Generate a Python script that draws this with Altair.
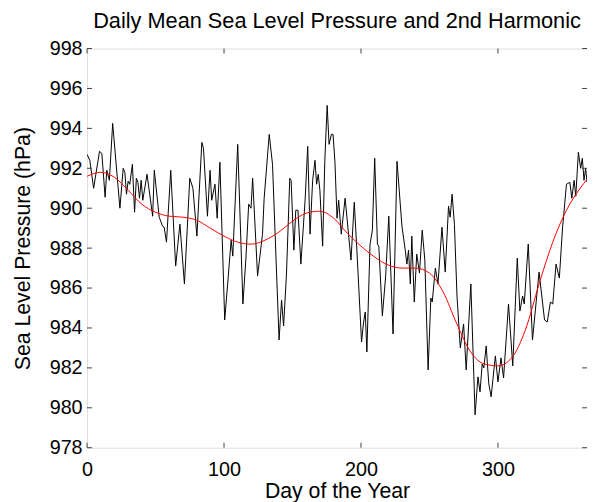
import altair as alt
import pandas as pd

# ---- data ----
day = [0, 2, 4.8, 9.1, 10.8, 13.2, 14.4, 16.3, 18.7, 24, 26.4, 27.6, 28.8, 30, 31.2, 33.1,
       34.7, 36, 37.1, 38.3, 39.5, 40.7, 43.8, 47.9, 49.1, 52.7, 55.1, 56.3, 58, 61.1,
       64.7, 67.8, 71.1, 75, 77.3, 80.2, 83.8, 85, 87.9, 89.8, 91, 93.4, 95, 97, 100.5,
       103, 105.2, 106.4, 110, 113.8, 116, 118, 119.7, 120.9, 124.5, 128.1, 129.3, 133,
       135.4, 140.2, 142, 143.5, 145.6, 148, 149, 151, 152.4, 154, 156.1, 159.2, 161.1,
       162.8, 164.7, 166.4, 167.6, 168.8, 170, 172, 173.6, 175.3, 176.7, 178.4, 179.6,
       181, 182.5, 183.7, 185.6, 188.4, 192.7, 195.1, 197, 200.4, 201.9, 203.1, 204.3,
       206.6, 208.3, 210, 212, 213, 215.6, 218, 220.3, 223.4, 226.3, 229.9, 232.3, 233.5,
       234.7, 236, 237.1, 238.9, 240.7, 242.7, 244.7, 246.6, 249, 251, 252, 254.3, 256.2,
       259.1, 261.5, 263.9, 265.1, 266.5, 268.2, 270.1, 272.5, 274.9, 276.8, 280.2, 283.3,
       285.4, 286.9, 288.5, 289.7, 291.4, 293.3, 295, 298.1, 300, 302.2, 304.1, 307.7,
       310.8, 314.1, 316, 318, 319.2, 322.1, 325.2, 330, 334, 336, 338.3, 340, 342.4,
       344.8, 347.2, 350, 352.5, 353.9, 355.6, 356.8, 358.7, 360.4, 361.6, 362.8, 364, 365]
slp = [992.7, 992.4, 991.0, 992.85, 992.75, 990.55, 991.9, 991.4, 994.25, 990.0, 992.0, 991.8,
       990.7, 991.35, 991.2, 992.2, 989.8, 991.5, 991.3, 990.5, 991.4, 990.4, 991.7, 989.6,
       991.9, 989.55, 989.1, 989.05, 988.3, 991.9, 987.1, 989.2, 986.2, 991.5, 991.0, 988.6,
       993.3, 993.0, 989.6, 991.9, 990.4, 991.2, 989.5, 992.3, 984.4, 986.5, 988.4, 987.6,
       993.2, 985.2, 987.5, 990.2, 990.0, 991.5, 986.6, 988.7, 990.5, 993.7, 992.2, 983.4,
       985.4, 984.1, 986.7, 991.5, 991.4, 987.9, 989.9, 989.9, 987.2, 990.4, 993.1, 988.7,
       991.4, 992.4, 991.2, 991.7, 990.9, 988.1, 992.4, 995.15, 993.2, 993.7, 993.7, 992.3,
       989.5, 990.4, 988.7, 990.5, 987.4, 990.3, 987.9, 983.3, 984.3, 984.8, 982.8, 988.2,
       988.9, 992.5, 988.2, 988.1, 984.6, 986.6, 989.6, 983.7, 992.35, 989.1, 987.9, 987.2,
       987.9, 986.2, 988.6, 985.3, 987.7, 986.75, 988.9, 987.4, 981.9, 985.5, 985.3, 987.0,
       986.2, 989.05, 986.8, 990.1, 989.55, 990.7, 989.2, 985.6, 983.0, 984.2, 981.9, 986.2,
       979.65, 981.55, 980.8, 982.2, 982.0, 983.1, 981.2, 980.55, 982.6, 981.3, 982.5, 981.5,
       985.2, 982.1, 987.5, 984.85, 985.6, 985.2, 988.2, 983.4, 986.8, 984.4, 984.3, 985.3,
       985.2, 987.2, 986.5, 989.06, 991.2, 991.3, 990.5, 991.4, 990.6, 992.8, 992.0, 992.5,
       991.4, 992.0, 991.3]

harm_day = [0, 10, 20, 30, 40, 50, 60, 70, 80, 90, 100, 110, 120, 130, 140, 150, 160, 170,
            180, 190, 200, 210, 220, 230, 240, 250, 260, 270, 280, 290, 300, 310, 320, 330,
            340, 350, 360, 365]
harm_slp = [991.6, 991.8, 991.55, 990.9, 990.2, 989.8, 989.6, 989.55, 989.4, 989.0, 988.6,
            988.3, 988.2, 988.4, 988.8, 989.35, 989.75, 989.85, 989.5, 988.75, 988.1, 987.55,
            987.15, 987.0, 987.0, 986.75, 985.8, 984.2, 982.8, 982.2, 982.1, 982.5, 983.9,
            986.2, 988.3, 989.9, 991.0, 991.45]

x_ticks = [0, 100, 200, 300]
y_ticks = [978, 980, 982, 984, 986, 988, 990, 992, 994, 996, 998]

TITLE = "Daily Mean Sea Level Pressure and 2nd Harmonic"
X_TITLE = "Day of the Year"
Y_TITLE = "Sea Level Pressure (hPa)"

W, H = 506, 404
FONT = "Liberation Sans"
AX = "#404040"

black_df = pd.DataFrame({"day": day, "slp": slp})
harm_df = pd.DataFrame({"day": harm_day, "slp": harm_slp})
xt_df = pd.DataFrame({"t": x_ticks})
yt_df = pd.DataFrame({"t": y_ticks})

xscale = alt.Scale(domain=[0, 365], nice=False, zero=False)
yscale = alt.Scale(domain=[978, 998], nice=False, zero=False)

x_axis = alt.Axis(values=x_ticks, title=X_TITLE, ticks=False, domain=False, grid=False,
                  labelFlush=False, labelOverlap=False,
                  labelFont=FONT, labelFontSize=20, labelColor="black", labelPadding=12,
                  titleFont=FONT, titleFontSize=21.5, titleFontWeight="normal",
                  titleColor="black", titlePadding=1)
y_axis = alt.Axis(values=y_ticks, title=Y_TITLE, ticks=False, domain=False, grid=False,
                  labelFlush=False, labelOverlap=False,
                  labelFont=FONT, labelFontSize=20, labelColor="black", labelPadding=5,
                  titleFont=FONT, titleFontSize=21.5, titleFontWeight="normal",
                  titleColor="black", titlePadding=15, format="d")

black = alt.Chart(black_df).mark_line(color="black", strokeWidth=1, clip=True).encode(
    x=alt.X("day:Q", scale=xscale, axis=x_axis),
    y=alt.Y("slp:Q", scale=yscale, axis=y_axis),
)
red = alt.Chart(harm_df).mark_line(color="red", strokeWidth=1, interpolate="monotone",
                                   clip=True).encode(
    x=alt.X("day:Q", scale=xscale),
    y=alt.Y("slp:Q", scale=yscale),
)

tick_len = 5
bottom_ticks = alt.Chart(xt_df).mark_rule(color=AX, strokeWidth=1).encode(
    x=alt.X("t:Q", scale=xscale), y=alt.value(H), y2=alt.value(H - tick_len))
top_ticks = alt.Chart(xt_df).mark_rule(color=AX, strokeWidth=1).encode(
    x=alt.X("t:Q", scale=xscale), y=alt.value(0), y2=alt.value(tick_len))
left_ticks = alt.Chart(yt_df).mark_rule(color=AX, strokeWidth=1).encode(
    y=alt.Y("t:Q", scale=yscale), x=alt.value(0), x2=alt.value(tick_len))
right_ticks = alt.Chart(yt_df).mark_rule(color=AX, strokeWidth=1).encode(
    y=alt.Y("t:Q", scale=yscale), x=alt.value(W), x2=alt.value(W - tick_len))

chart = alt.layer(black, red, bottom_ticks, top_ticks, left_ticks, right_ticks).properties(
    width=W, height=H,
    title=alt.TitleParams(TITLE, font=FONT, fontSize=22, fontWeight="normal",
                          color="black", anchor="middle", offset=6),
    autosize=alt.AutoSizeParams(type="none"),
    padding={"left": 80, "top": 38, "right": 0, "bottom": 60},
).configure_view(stroke=AX, strokeWidth=1).configure(background="white")

chart.save("out.html", embed_options={"renderer": "svg", "actions": False})
